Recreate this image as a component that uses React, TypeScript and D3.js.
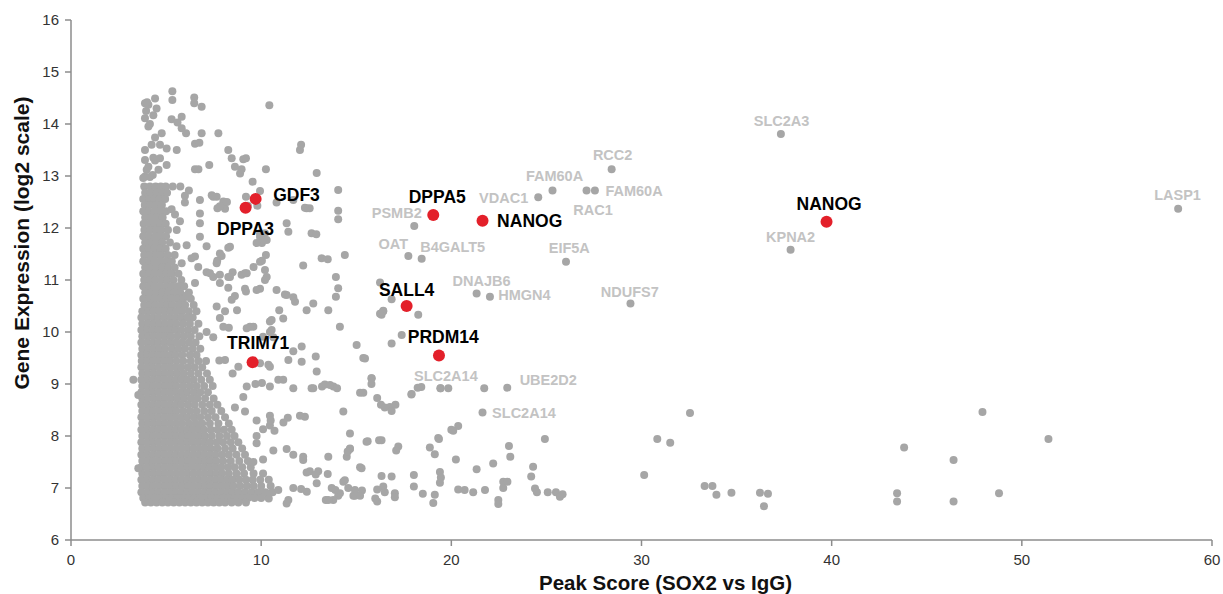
import React from "react";
import * as d3 from "d3";

// ---------- DATA ----------
const xTicks = [0, 10, 20, 30, 40, 50, 60];
const yTicks = [6, 7, 8, 9, 10, 11, 12, 13, 14, 15, 16];
const xTitle = "Peak Score (SOX2 vs IgG)";
const yTitle = "Gene Expression (log2 scale)";

// dense cluster, read row by row: [log2 expression, peak scores...]
const clusterRows: [number, number[]][] = [
  [12.80, [3.85, 4.15, 4.45, 4.72, 4.98, 5.35, 5.75]],
  [12.68, [3.9, 4.2, 4.5, 4.8, 5.05]],
  [12.56, [3.8, 4.1, 4.38, 4.66, 4.95]],
  [12.44, [3.88, 4.18, 4.48, 4.78]],
  [12.32, [3.8, 4.08, 4.4, 4.7, 5.0]],
  [12.20, [3.9, 4.2, 4.52, 4.82]],
  [12.08, [3.82, 4.12, 4.4, 4.68, 4.98]],
  [11.96, [3.86, 4.16, 4.46, 4.76, 5.1]],
  [11.84, [3.8, 4.1, 4.42, 4.7, 5.0]],
  [11.72, [3.9, 4.2, 4.5, 4.8, 5.2]],
  [11.60, [3.8, 4.08, 4.38, 4.68, 4.98]],
  [11.48, [3.85, 4.15, 4.46, 4.76, 5.08, 5.45]],
  [11.36, [3.8, 4.1, 4.4, 4.7, 5.0, 5.3]],
  [11.24, [3.9, 4.2, 4.5, 4.8, 5.1, 5.45]],
  [11.12, [3.8, 4.1, 4.4, 4.7, 5.0, 5.3, 5.65]],
  [11.00, [3.85, 4.15, 4.45, 4.75, 5.05, 5.38, 5.8]],
  [10.88, [3.8, 4.1, 4.4, 4.7, 5.0, 5.3, 5.62, 5.95]],
  [10.76, [3.9, 4.2, 4.5, 4.8, 5.1, 5.42, 5.75, 6.2]],
  [10.64, [3.8, 4.1, 4.4, 4.7, 5.0, 5.3, 5.6, 5.9, 6.3]],
  [10.52, [3.85, 4.15, 4.45, 4.75, 5.05, 5.35, 5.68, 6.0, 6.45]],
  [10.40, [3.75, 4.05, 4.35, 4.65, 4.95, 5.25, 5.55, 5.85, 6.2, 6.6]],
  [10.28, [3.7, 4.0, 4.3, 4.6, 4.9, 5.2, 5.5, 5.8, 6.1, 6.4]],
  [10.16, [3.75, 4.05, 4.35, 4.65, 4.95, 5.25, 5.55, 5.9, 6.25, 6.7]],
  [10.04, [3.7, 4.0, 4.3, 4.6, 4.9, 5.2, 5.5, 5.8, 6.15, 6.5]],
  [9.92, [3.75, 4.05, 4.35, 4.65, 4.95, 5.25, 5.6, 5.95, 6.3, 6.75]],
  [9.80, [3.7, 4.0, 4.3, 4.6, 4.9, 5.2, 5.5, 5.85, 6.2, 6.55]],
  [9.68, [3.75, 4.05, 4.35, 4.65, 4.95, 5.3, 5.65, 6.0, 6.4, 6.8]],
  [9.56, [3.7, 4.0, 4.3, 4.6, 4.9, 5.2, 5.5, 5.85, 6.25, 6.6]],
  [9.44, [3.72, 4.02, 4.32, 4.62, 4.92, 5.22, 5.55, 5.9, 6.3, 6.7, 7.1]],
  [9.32, [3.7, 4.0, 4.3, 4.6, 4.9, 5.2, 5.5, 5.8, 6.15, 6.5, 6.9]],
  [9.20, [3.75, 4.05, 4.35, 4.65, 4.95, 5.25, 5.58, 5.92, 6.3, 6.7, 7.15]],
  [9.08, [3.7, 4.0, 4.3, 4.6, 4.9, 5.2, 5.5, 5.8, 6.1, 6.45, 6.85, 7.3]],
  [8.96, [3.75, 4.05, 4.35, 4.65, 4.95, 5.25, 5.55, 5.9, 6.25, 6.6, 7.0, 7.45]],
  [8.84, [3.7, 4.0, 4.3, 4.6, 4.9, 5.2, 5.5, 5.8, 6.1, 6.45, 6.8, 7.2]],
  [8.72, [3.75, 4.05, 4.35, 4.65, 4.95, 5.25, 5.6, 5.95, 6.3, 6.65, 7.05, 7.5]],
  [8.60, [3.7, 4.0, 4.3, 4.6, 4.9, 5.2, 5.5, 5.8, 6.15, 6.5, 6.9, 7.3, 7.7]],
  [8.48, [3.75, 4.05, 4.35, 4.65, 4.95, 5.25, 5.55, 5.9, 6.25, 6.6, 7.0, 7.4, 7.9]],
  [8.36, [3.7, 4.0, 4.3, 4.6, 4.9, 5.2, 5.5, 5.8, 6.1, 6.45, 6.8, 7.2, 7.6, 8.1]],
  [8.24, [3.75, 4.05, 4.35, 4.65, 4.95, 5.25, 5.55, 5.85, 6.2, 6.55, 6.9, 7.3, 7.75, 8.3]],
  [8.12, [3.7, 4.0, 4.3, 4.6, 4.9, 5.2, 5.5, 5.8, 6.1, 6.4, 6.7, 7.0, 7.35, 7.7, 8.05, 8.45]],
  [8.00, [3.75, 4.05, 4.35, 4.65, 4.95, 5.25, 5.55, 5.85, 6.15, 6.45, 6.75, 7.05, 7.4, 7.8, 8.2, 8.6]],
  [7.88, [3.7, 4.0, 4.3, 4.6, 4.9, 5.2, 5.5, 5.8, 6.1, 6.4, 6.7, 7.0, 7.3, 7.65, 8.0, 8.4, 8.8]],
  [7.76, [3.75, 4.05, 4.35, 4.65, 4.95, 5.25, 5.55, 5.85, 6.15, 6.45, 6.75, 7.05, 7.35, 7.7, 8.1, 8.5, 9.0]],
  [7.64, [3.7, 4.0, 4.3, 4.6, 4.9, 5.2, 5.5, 5.8, 6.1, 6.4, 6.7, 7.0, 7.3, 7.6, 7.95, 8.3, 8.7, 9.15]],
  [7.52, [3.75, 4.05, 4.35, 4.65, 4.95, 5.25, 5.55, 5.85, 6.15, 6.45, 6.75, 7.05, 7.35, 7.65, 8.0, 8.4, 8.85, 9.3]],
  [7.40, [3.7, 4.0, 4.3, 4.6, 4.9, 5.2, 5.5, 5.8, 6.1, 6.4, 6.7, 7.0, 7.3, 7.6, 7.9, 8.25, 8.6, 9.0, 9.45]],
  [7.28, [3.75, 4.05, 4.35, 4.65, 4.95, 5.25, 5.55, 5.85, 6.15, 6.45, 6.75, 7.05, 7.35, 7.65, 7.95, 8.3, 8.7, 9.1, 9.6, 10.1]],
  [7.16, [3.7, 4.0, 4.3, 4.6, 4.9, 5.2, 5.5, 5.8, 6.1, 6.4, 6.7, 7.0, 7.3, 7.6, 7.9, 8.2, 8.5, 8.85, 9.2, 9.55, 9.95, 10.4]],
  [7.04, [3.75, 4.05, 4.35, 4.65, 4.95, 5.25, 5.55, 5.85, 6.15, 6.45, 6.75, 7.05, 7.35, 7.65, 7.95, 8.25, 8.55, 8.9, 9.25, 9.6, 10.0, 10.5]],
  [6.92, [3.7, 4.0, 4.3, 4.6, 4.9, 5.2, 5.5, 5.8, 6.1, 6.4, 6.7, 7.0, 7.3, 7.6, 7.9, 8.2, 8.5, 8.8, 9.15, 9.5, 9.85, 10.2, 10.6]],
  [6.81, [3.8, 4.1, 4.4, 4.7, 5.0, 5.3, 5.6, 5.9, 6.2, 6.5, 6.8, 7.1, 7.4, 7.7, 8.0, 8.3, 8.6, 8.95, 9.3, 9.65, 10.0]],
  [6.72, [3.9, 4.2, 4.5, 4.8, 5.1, 5.4, 5.7, 6.0, 6.3, 6.6, 6.9, 7.2, 7.5, 7.8, 8.1, 8.45, 8.8, 9.2]],
];

// sparse points above the cluster
const topPoints: [number, number][] = [
  [5.33, 14.63], [5.33, 14.46], [3.89, 14.4], [4.42, 14.49], [4.07, 14.37], [4.5, 14.3], [4.33, 14.17],
  [6.48, 14.51], [6.48, 14.4], [6.87, 14.33], [10.43, 14.36], [3.89, 14.11], [4.07, 13.95], [5.29, 14.09],
  [5.6, 14.03], [5.82, 14.14], [5.82, 13.92], [6.05, 13.82], [6.87, 13.82], [7.75, 13.82], [4.77, 13.82],
  [4.42, 13.74], [3.89, 13.5], [4.24, 13.6], [4.68, 13.6], [5.03, 13.53], [5.56, 13.5], [6.52, 13.62],
  [6.75, 13.64], [8.27, 13.5], [8.45, 13.34], [9.06, 13.32], [9.2, 13.34], [8.62, 13.18], [8.89, 13.05],
  [12.04, 13.5], [12.1, 13.6], [12.92, 13.06], [7.27, 13.21], [6.52, 13.13], [6.7, 13.13], [4.07, 13.18],
  [4.42, 13.3], [4.68, 13.34], [5.03, 13.21], [4.6, 13.12], [3.89, 12.99], [4.3, 13.02], [9.55, 12.89],
  [10.25, 13.13], [9.94, 12.71], [9.8, 12.43], [4.0, 14.42], [3.95, 14.25], [4.15, 14.0], [3.89, 13.31],
  [4.33, 13.35], [3.98, 13.12], [3.8, 12.96], [4.15, 12.98], [8.97, 13.13],
];

// scattered points right of the cluster (peak 5-16)
const midPoints: [number, number][] = [
  [14.05, 12.73], [14.05, 12.33], [14.05, 12.17], [12.39, 12.38], [12.55, 12.38], [12.65, 11.9], [12.9, 11.88],
  [10.81, 12.49], [11.69, 12.54], [11.34, 12.09], [11.43, 11.93], [12.21, 11.28], [13.18, 11.42], [13.5, 11.4],
  [14.4, 11.48], [13.93, 11.06], [14.05, 10.84], [7.13, 11.65], [8.27, 11.62], [7.92, 11.46], [7.69, 11.37],
  [6.78, 11.83], [6.78, 12.09], [6.78, 12.28], [6.78, 12.54], [7.48, 12.6], [7.66, 12.6], [8.01, 12.51],
  [7.7, 12.38], [8.1, 12.37], [9.2, 12.6], [9.94, 11.83], [10.2, 11.9], [10.04, 11.71], [10.25, 11.48],
  [10.04, 11.37], [9.6, 11.25], [10.29, 11.06], [10.2, 11.0], [9.15, 11.13], [8.97, 11.1], [8.5, 11.15],
  [8.27, 11.06], [7.13, 11.15], [7.48, 11.06], [7.83, 10.94], [8.27, 10.85], [9.15, 10.83], [9.94, 10.83],
  [10.81, 10.81], [11.25, 10.72], [11.69, 10.67], [6.52, 10.94], [6.08, 10.7], [6.52, 11.45], [6.34, 11.42],
  [6.08, 11.67], [5.55, 11.65], [5.56, 11.96], [5.73, 12.13], [5.47, 12.26], [5.29, 12.36], [5.99, 12.49],
  [5.99, 12.62], [6.2, 12.72], [7.4, 12.63], [7.83, 12.42], [8.2, 12.5], [9.3, 12.43], [12.3, 12.39],
  [7.83, 11.51], [8.36, 11.64], [7.66, 11.32], [7.83, 11.1], [7.31, 11.13], [6.69, 11.25], [5.82, 11.32],
  [8.36, 11.06], [9.24, 11.13], [10.2, 11.19], [9.94, 11.35], [9.76, 11.71], [10.29, 11.77], [9.94, 11.9],
  [8.62, 10.69], [8.45, 10.62], [9.2, 10.78], [9.76, 10.81], [7.66, 10.49], [7.83, 10.27], [8.01, 10.1],
  [8.3, 10.08], [12.74, 10.55], [12.39, 10.42], [11.16, 10.26], [10.55, 10.23], [10.55, 10.04], [9.41, 10.1],
  [10.1, 9.91], [12.13, 9.72], [11.69, 9.63], [10.38, 9.37], [12.13, 9.43], [12.87, 9.53], [11.34, 10.71],
  [11.78, 10.58], [13.53, 10.42], [13.93, 10.68], [14.14, 10.1], [10.95, 10.42], [10.46, 10.2], [9.59, 10.1],
  [8.73, 10.42], [8.1, 10.4], [7.13, 10.0], [7.48, 9.9], [9.24, 10.07], [10.46, 10.0], [10.64, 9.9],
  [11.43, 9.46], [12.92, 9.24], [10.46, 9.33], [9.94, 9.4], [8.8, 9.33], [8.1, 9.46], [7.8, 9.45], [8.5, 9.2],
  [9.24, 8.95], [9.7, 9.0], [10.04, 9.02], [10.46, 8.95], [10.9, 9.08], [11.16, 9.08], [11.69, 8.92],
  [12.74, 8.92], [13.2, 8.95], [13.35, 8.99], [13.8, 8.95], [15.02, 9.75], [15.37, 9.5], [15.8, 9.11],
  [15.8, 9.0], [15.2, 8.83], [16.1, 8.73], [14.32, 8.47], [12.04, 8.39], [11.4, 8.35], [11.17, 8.26],
  [10.46, 8.39], [10.46, 8.2], [10.1, 8.13], [10.7, 8.1], [9.06, 8.75], [8.62, 8.55], [9.15, 8.47],
  [9.76, 8.3], [10.5, 8.3], [9.76, 7.86], [9.76, 8.0], [9.59, 7.5], [10.1, 7.55], [10.64, 7.72],
  [11.34, 7.75], [11.69, 7.64], [12.21, 7.54], [12.56, 7.32], [13.0, 7.32], [13.5, 7.27], [13.53, 7.6],
  [14.4, 7.15], [14.67, 7.76], [14.67, 8.05], [15.54, 7.89], [16.2, 7.92], [15.2, 7.4], [12.92, 7.09],
  [11.69, 7.0], [12.1, 6.98], [12.4, 6.93], [13.71, 7.0], [14.05, 6.85], [14.58, 7.0], [14.85, 6.85],
  [15.3, 6.95], [16.1, 6.74], [13.79, 6.77], [13.4, 6.77], [11.43, 6.77], [11.34, 6.7], [10.9, 6.96],
  [10.3, 6.9], [10.4, 6.8], [3.28, 9.08], [3.54, 8.79], [3.54, 7.38],
];

// scattered points peak 12-26
const lowPoints: [number, number][] = [
  [16.33, 10.33], [16.42, 10.4], [18.26, 10.33], [15.46, 9.49], [16.86, 9.78], [17.39, 9.94], [12.65, 8.92],
  [13.62, 8.98], [13.99, 8.92], [15.37, 8.83], [15.81, 9.11], [16.77, 8.56], [17.06, 8.6], [16.86, 8.48],
  [17.9, 8.8], [18.42, 8.94], [18.23, 8.93], [17.91, 8.81], [19.43, 8.92], [19.84, 8.92], [21.73, 8.92],
  [12.3, 8.37], [14.67, 7.75], [16.33, 7.92], [17.21, 7.8], [17.1, 7.72], [18.87, 7.78], [19.13, 7.65],
  [19.31, 7.96], [20.36, 8.19], [20.1, 8.1], [23.03, 7.81], [23.1, 7.6], [24.92, 7.94], [20.24, 7.55],
  [22.2, 7.47], [21.33, 7.36], [24.3, 7.41], [24.2, 7.22], [22.73, 7.12], [22.95, 7.12], [22.73, 7.0],
  [24.4, 6.99], [24.5, 6.92], [25.07, 6.92], [25.5, 6.92], [25.71, 6.83], [25.85, 6.88], [22.47, 6.77],
  [22.47, 6.69], [21.77, 6.96], [21.15, 6.92], [20.7, 6.96], [20.36, 6.97], [19.4, 7.31], [19.45, 7.2],
  [19.4, 7.1], [19.13, 6.87], [19.05, 6.71], [18.5, 6.89], [18.03, 7.25], [18.03, 7.03], [16.86, 7.22],
  [17.03, 6.9], [17.03, 6.82], [16.33, 7.23], [16.42, 7.03], [16.5, 6.92], [16.1, 6.97], [16.0, 6.8],
  [15.28, 7.38], [14.93, 6.96], [14.93, 6.85], [15.2, 6.85], [14.32, 7.12], [14.14, 6.9], [13.9, 6.96],
  [13.53, 6.77], [14.5, 7.6], [14.55, 7.7], [12.87, 7.26], [12.39, 7.3], [12.21, 7.6], [16.25, 10.95],
  [16.86, 10.63], [16.42, 10.41], [16.25, 10.35], [16.3, 8.6], [16.5, 8.55], [20.0, 8.12], [19.35, 7.94],
  [15.6, 7.9],
];

// far right points (peak > 29)
const farPoints: [number, number][] = [
  [30.83, 7.94], [31.51, 7.87], [30.14, 7.25], [32.55, 8.44], [33.32, 7.04], [33.73, 7.04], [33.94, 6.87],
  [34.73, 6.91], [36.23, 6.91], [36.65, 6.89], [36.44, 6.65], [43.44, 6.9], [43.44, 6.74], [43.81, 7.78],
  [46.41, 7.54], [46.41, 6.74], [47.93, 8.46], [48.8, 6.9], [51.4, 7.94],
];

// gray labelled genes
const grayGenes = ["RCC2", "FAM60A", "FAM60A", "RAC1", "VDAC1", "PSMB2", "OAT", "B4GALT5", "EIF5A", "DNAJB6", "HMGN4", "NDUFS7", "SLC2A14", "UBE2D2", "SLC2A14", "SLC2A3", "KPNA2", "LASP1"];
const grayX = [28.43, 25.32, 27.55, 27.11, 24.57, 18.05, 17.74, 18.44, 26.03, 21.33, 22.03, 29.42, 19.43, 22.94, 21.64, 37.33, 37.84, 58.22];
const grayY = [13.13, 12.72, 12.72, 12.72, 12.59, 12.04, 11.46, 11.41, 11.35, 10.74, 10.68, 10.55, 8.92, 8.93, 8.45, 13.81, 11.58, 12.37];

// highlighted (red) genes
const redGenes = ["GDF3", "DPPA3", "DPPA5", "NANOG", "NANOG", "SALL4", "PRDM14", "TRIM71"];
const redX = [9.71, 9.18, 19.05, 21.64, 39.73, 17.65, 19.35, 9.55];
const redY = [12.56, 12.39, 12.25, 12.14, 12.12, 10.5, 9.55, 9.42];

// ---------- LAYOUT / STYLE ----------
const W = 1223;
const H = 594;
const M = { left: 71, right: 1212, top: 20, bottom: 540 };
const GRAY = "#a6a6a6";
const LABEL_GRAY = "#c3c3c3";
const RED = "#e3202a";
const AXIS = "#8c8c8c";
const FONT = "'Liberation Sans', Arial, Helvetica, sans-serif";

// label offsets (px) for gray labels, same order as grayGenes
const grayLabelPos: { dx: number; dy: number; anchor: string }[] = [
  { dx: 1, dy: -9, anchor: "middle" },
  { dx: 2, dy: -9.5, anchor: "middle" },
  { dx: 10.5, dy: 5.2, anchor: "start" },
  { dx: 6.5, dy: 24, anchor: "middle" },
  { dx: -10, dy: 5.2, anchor: "end" },
  { dx: 7.5, dy: -8, anchor: "end" },
  { dx: -15, dy: -6.8, anchor: "middle" },
  { dx: 31, dy: -6.8, anchor: "middle" },
  { dx: 3.3, dy: -8.5, anchor: "middle" },
  { dx: 5, dy: -7.4, anchor: "middle" },
  { dx: 8.3, dy: 3.5, anchor: "start" },
  { dx: -0.7, dy: -6.4, anchor: "middle" },
  { dx: 5.4, dy: -7, anchor: "middle" },
  { dx: 41, dy: -3.1, anchor: "middle" },
  { dx: 9.6, dy: 5.2, anchor: "start" },
  { dx: 0.7, dy: -8.1, anchor: "middle" },
  { dx: 0, dy: -8.1, anchor: "middle" },
  { dx: -0.6, dy: -9.2, anchor: "middle" },
];

const redLabelPos: { dx: number; dy: number; anchor: string }[] = [
  { dx: 17.5, dy: 2, anchor: "start" },
  { dx: 0, dy: 27, anchor: "middle" },
  { dx: 4, dy: -12.3, anchor: "middle" },
  { dx: 14.6, dy: 6, anchor: "start" },
  { dx: 2.6, dy: -11.7, anchor: "middle" },
  { dx: 0, dy: -10, anchor: "middle" },
  { dx: 4.3, dy: -12.6, anchor: "middle" },
  { dx: 5.6, dy: -13, anchor: "middle" },
];

export default function App() {
  const x = d3.scaleLinear().domain([0, 60]).range([M.left, M.right]);
  const y = d3.scaleLinear().domain([6, 16]).range([M.bottom, M.top]);

  const clusterPts: [number, number][] = [];
  clusterRows.forEach(([yy, xs]) => xs.forEach((xx) => clusterPts.push([xx, yy])));
  const allGray: [number, number][] = [
    ...clusterPts,
    ...topPoints,
    ...midPoints,
    ...lowPoints,
    ...farPoints,
    ...grayX.map((v, i) => [v, grayY[i]] as [number, number]),
  ];

  return (
    <svg
      width={W}
      height={H}
      style={{ position: "absolute", left: 0, top: 0, background: "#fff" }}
      fontFamily={FONT}
    >
      <rect x={0} y={0} width={W} height={H} fill="#fff" />
      {/* axes */}
      <line x1={M.left} x2={M.left} y1={M.top} y2={M.bottom} stroke={AXIS} strokeWidth={1.5} />
      <line x1={M.left} x2={M.right} y1={M.bottom} y2={M.bottom} stroke={AXIS} strokeWidth={1.5} />
      {yTicks.map((t) => (
        <g key={"y" + t}>
          <line x1={M.left - 6} x2={M.left} y1={y(t)} y2={y(t)} stroke={AXIS} strokeWidth={1.5} />
          <text x={M.left - 12} y={y(t)} dy="0.36em" textAnchor="end" fontSize={15} fill="#333">
            {t}
          </text>
        </g>
      ))}
      {xTicks.map((t) => (
        <g key={"x" + t}>
          <line x1={x(t)} x2={x(t)} y1={M.bottom} y2={M.bottom + 6} stroke={AXIS} strokeWidth={1.5} />
          <text x={x(t)} y={565} textAnchor="middle" fontSize={15} fill="#333">
            {t}
          </text>
        </g>
      ))}
      <text x={(M.left + M.right) / 2 + 24} y={590} textAnchor="middle" fontSize={20.5} fontWeight="bold" fill="#111">
        {xTitle}
      </text>
      <text
        transform={`translate(29, ${243}) rotate(-90)`}
        textAnchor="middle"
        fontSize={21}
        fontWeight="bold"
        fill="#111"
      >
        {yTitle}
      </text>

      {/* gray points */}
      <g fill={GRAY}>
        {allGray.map((p, i) => (
          <circle key={i} cx={x(p[0])} cy={y(p[1])} r={4} />
        ))}
      </g>

      {/* red points */}
      <g fill={RED}>
        {redX.map((v, i) => (
          <circle key={i} cx={x(v)} cy={y(redY[i])} r={6} />
        ))}
      </g>

      {/* gray labels */}
      {grayGenes.map((g, i) => (
        <text
          key={"gl" + i}
          x={x(grayX[i]) + grayLabelPos[i].dx}
          y={y(grayY[i]) + grayLabelPos[i].dy}
          textAnchor={grayLabelPos[i].anchor as any}
          fontSize={14.5}
          fontWeight="bold"
          fill={LABEL_GRAY}
        >
          {g}
        </text>
      ))}

      {/* red labels */}
      {redGenes.map((g, i) => (
        <text
          key={"rl" + i}
          x={x(redX[i]) + redLabelPos[i].dx}
          y={y(redY[i]) + redLabelPos[i].dy}
          textAnchor={redLabelPos[i].anchor as any}
          fontSize={17.5}
          fontWeight="bold"
          fill="#000"
        >
          {g}
        </text>
      ))}
    </svg>
  );
}
